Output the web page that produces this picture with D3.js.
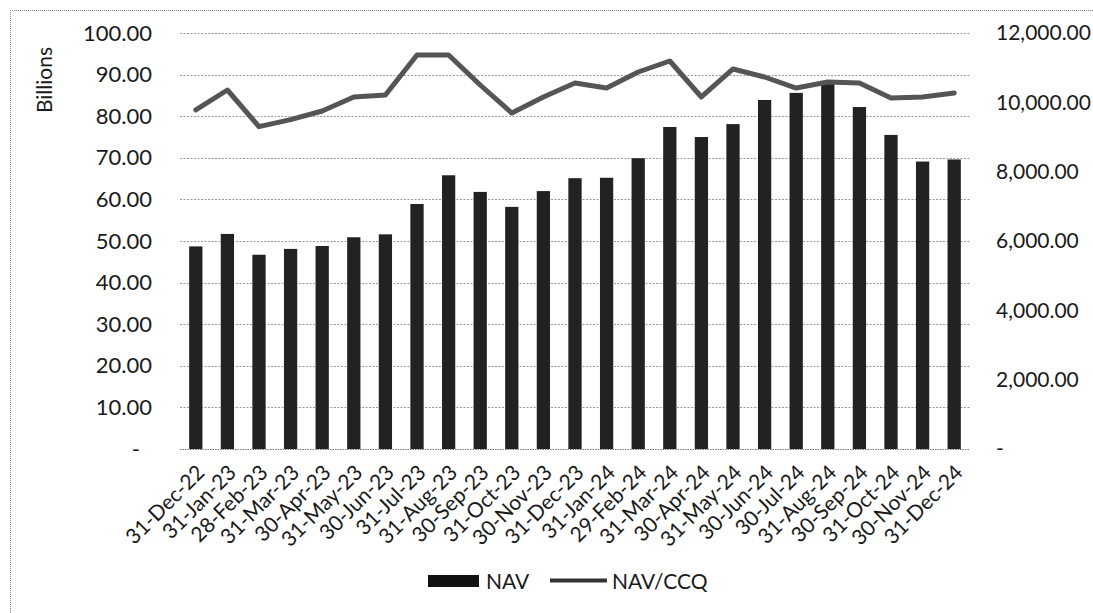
<!DOCTYPE html>
<html><head><meta charset="utf-8">
<script src="https://cdn.jsdelivr.net/npm/d3@7"></script>
<style>
html,body{margin:0;padding:0;background:#fff;}
text{font-family:Lato,"Open Sans",sans-serif;fill:#1a1a1a;}
</style></head>
<body><svg id="c" width="1093" height="613"></svg>
<script>
const categories = ["31-Dec-22","31-Jan-23","28-Feb-23","31-Mar-23","30-Apr-23","31-May-23","30-Jun-23","31-Jul-23","31-Aug-23","30-Sep-23","31-Oct-23","30-Nov-23","31-Dec-23","31-Jan-24","29-Feb-24","31-Mar-24","30-Apr-24","31-May-24","30-Jun-24","30-Jul-24","31-Aug-24","30-Sep-24","31-Oct-24","30-Nov-24","31-Dec-24"];
const navBillions = [48.7,51.7,46.7,48.1,48.8,50.9,51.6,58.9,65.8,61.8,58.2,62.0,65.1,65.2,69.9,77.4,75.0,78.1,83.9,85.6,88.3,82.2,75.5,69.1,69.6];
const navPerCCQ = [9780,10356,9300,9500,9750,10154,10212,11365,11365,10500,9692,10154,10558,10413,10875,11192,10154,10962,10731,10413,10587,10558,10125,10154,10269];
const leftTicks = [0,10,20,30,40,50,60,70,80,90,100];
const rightTicks = [0,2000,4000,6000,8000,10000,12000];
const seriesNames = ["NAV","NAV/CCQ"];

const svg = d3.select("#c");
const L=180, R=970, T=33, B=449;

const x = d3.scaleBand().domain(categories).range([L,R]).paddingInner(0.58).paddingOuter(0.29);
const yL = d3.scaleLinear().domain([0,100]).range([B,T]);
const yR = d3.scaleLinear().domain([0,12000]).range([B,T]);

// outer border (dotted)
svg.append("line").attr("x1",10).attr("x2",1093).attr("y1",10.5).attr("y2",10.5)
  .attr("stroke","#888").attr("stroke-dasharray","1,1");
svg.append("line").attr("x1",10.5).attr("x2",10.5).attr("y1",10).attr("y2",613)
  .attr("stroke","#888").attr("stroke-dasharray","1,1");

// gridlines
svg.append("g").selectAll("line").data(leftTicks.filter(d=>d>0)).join("line")
  .attr("x1",L).attr("x2",R).attr("y1",d=>Math.round(yL(d))+0.5).attr("y2",d=>Math.round(yL(d))+0.5)
  .attr("stroke","#9a9a9a").attr("stroke-width",1).attr("stroke-dasharray","2,1.5");

// left axis
const fmtL = d => d===0 ? "-" : d3.format(".2f")(d);
const axL = svg.append("g").attr("transform",`translate(${152},0)`)
  .call(d3.axisLeft(yL).tickValues(leftTicks).tickFormat(fmtL).tickSize(0).tickPadding(0));
axL.select(".domain").remove();
axL.selectAll("text").attr("font-size",22).style("font-family","Lato").attr("fill","#1a1a1a")
  .attr("dx", d=> d===0 ? -12 : 0);

// right axis
const fmtR = d => d===0 ? "-" : d3.format(",.2f")(d);
const axR = svg.append("g").attr("transform",`translate(${996},0)`)
  .call(d3.axisRight(yR).tickValues(rightTicks).tickFormat(fmtR).tickSize(0).tickPadding(0));
axR.select(".domain").remove();
axR.selectAll("text").attr("font-size",21).style("font-family","Lato").attr("fill","#1a1a1a");

// Billions label
svg.append("text").attr("transform","translate(52,80) rotate(-90)").attr("text-anchor","middle")
  .attr("font-size",21).text("Billions");

// bars
svg.append("g").selectAll("rect").data(categories).join("rect")
  .attr("x",(d)=>x(d)).attr("width",x.bandwidth())
  .attr("y",(d,i)=>yL(navBillions[i])).attr("height",(d,i)=>B-yL(navBillions[i]))
  .attr("fill","#222");

// x axis line
svg.append("line").attr("x1",L).attr("x2",R).attr("y1",B+0.5).attr("y2",B+0.5)
  .attr("stroke","#777").attr("stroke-dasharray","1.5,1");

// x labels
const axX = svg.append("g").attr("transform",`translate(0,${B})`)
  .call(d3.axisBottom(x).tickSize(0).tickPadding(0));
axX.select(".domain").remove();
axX.selectAll("text").attr("font-size",21).style("font-family","Lato").attr("fill","#1a1a1a")
  .attr("text-anchor","end").attr("dy",0).attr("y",0)
  .attr("transform","translate(10,25) rotate(-45)");

// line
const line = d3.line().x((d,i)=>x(categories[i])+x.bandwidth()/2).y(d=>yR(d));
svg.append("path").datum(navPerCCQ).attr("d",line).attr("fill","none")
  .attr("stroke","#555").attr("stroke-width",5).attr("stroke-linejoin","round").attr("stroke-linecap","round");

// legend
const lg = svg.append("g");
lg.append("rect").attr("x",428).attr("y",575).attr("width",51).attr("height",12).attr("fill","#111");
lg.append("text").attr("x",486).attr("y",589).attr("font-size",21).text(seriesNames[0]);
lg.append("line").attr("x1",550).attr("x2",607).attr("y1",580.5).attr("y2",580.5).attr("stroke","#333").attr("stroke-width",4);
lg.append("text").attr("x",612).attr("y",589).attr("font-size",21).text(seriesNames[1]);
</script></body></html>
